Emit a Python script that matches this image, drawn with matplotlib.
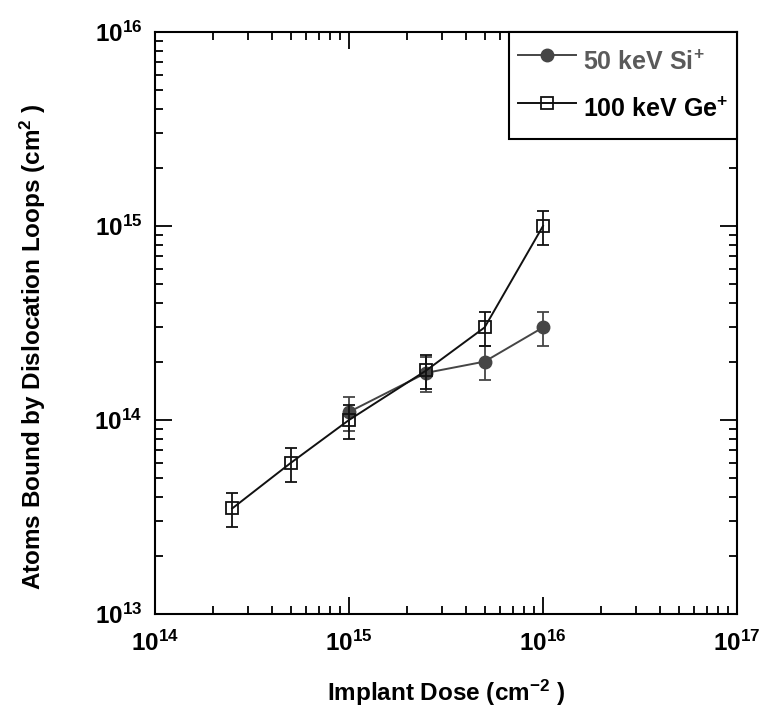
import matplotlib
matplotlib.use('Agg')
import matplotlib.pyplot as plt
from matplotlib.lines import Line2D
from matplotlib.ticker import LogLocator, LogFormatterMathtext, NullFormatter

plt.rcParams['font.family'] = ['Liberation Sans', 'DejaVu Sans']
plt.rcParams['font.weight'] = 'bold'
plt.rcParams['mathtext.fontset'] = 'custom'
plt.rcParams['mathtext.rm'] = 'Liberation Sans:bold'
plt.rcParams['mathtext.bf'] = 'Liberation Sans:bold'
plt.rcParams['mathtext.it'] = 'Liberation Sans:bold'
plt.rcParams['mathtext.default'] = 'bf'

# data (relative error ~20 %)
si_dose = [1e15, 2.5e15, 5e15, 1e16]
si_atoms = [1.1e14, 1.75e14, 2.0e14, 3.0e14]
ge_dose = [2.5e14, 5e14, 1e15, 2.5e15, 5e15, 1e16]
ge_atoms = [3.5e13, 6.0e13, 1.0e14, 1.8e14, 3.0e14, 1.0e15]
rel_err = 0.2

si_color = '#454545'
ge_color = '#111111'

fig = plt.figure(figsize=(7.63, 7.19), dpi=100)
ax = fig.add_axes([155/763, 1 - 614/719, 582/763, 582/719])

ax.errorbar(ge_dose, ge_atoms, yerr=[a * rel_err for a in ge_atoms],
            color=ge_color, lw=1.4, marker='s', ms=8, mfc='none', mec=ge_color,
            mew=1.3, ecolor=ge_color, elinewidth=1.3, capsize=4.5, capthick=1.3,
            zorder=3)
ax.errorbar(si_dose, si_atoms, yerr=[a * rel_err for a in si_atoms],
            color=si_color, lw=1.4, marker='o', ms=9, mfc=si_color, mec=si_color,
            ecolor=si_color, elinewidth=1.3, capsize=4.5, capthick=1.3, zorder=2)

ax.set_xscale('log')
ax.set_yscale('log')
ax.set_xlim(1e14, 1e17)
ax.set_ylim(1e13, 1e16)

for a in (ax.xaxis, ax.yaxis):
    a.set_major_locator(LogLocator(base=10, numticks=10))
    a.set_minor_locator(LogLocator(base=10, subs=range(2, 10), numticks=10))
    a.set_major_formatter(LogFormatterMathtext())
    a.set_minor_formatter(NullFormatter())

ax.tick_params(which='both', direction='in', top=True, right=True, width=1.3)
ax.tick_params(which='major', length=12, labelsize=17.5)
ax.tick_params(which='minor', length=6)
ax.tick_params(axis='x', which='major', pad=12)
ax.tick_params(axis='y', which='major', pad=9)
for s in ax.spines.values():
    s.set_linewidth(1.5)

ax.set_xlabel(r'Implant Dose (cm$^{-2}$ )', fontsize=17.5, fontweight='bold', labelpad=16)
ax.set_ylabel(r'Atoms Bound by Dislocation Loops (cm$^{2}$ )', fontsize=17.5,
              fontweight='bold')
ax.yaxis.set_label_coords(-0.184, 0.46)

handles = [
    Line2D([], [], color=si_color, lw=1.4, marker='o', ms=9, mfc=si_color, mec=si_color),
    Line2D([], [], color=ge_color, lw=1.4, marker='s', ms=8, mfc='none', mec=ge_color, mew=1.3),
]
leg = ax.legend(handles, [r'50 keV Si$^{+}$', r'100 keV Ge$^{+}$'], loc='upper right',
                borderaxespad=0, fancybox=False, framealpha=1, edgecolor='black',
                prop={'size': 18, 'weight': 'bold'}, handlelength=2.3,
                handleheight=2.2, handletextpad=0.3, labelspacing=0.24,
                borderpad=0.35)
leg.get_frame().set_linewidth(1.5)
leg.get_texts()[0].set_color('#5a5a5a')
leg.get_texts()[1].set_color('black')

fig.savefig('out.png', dpi=100)
